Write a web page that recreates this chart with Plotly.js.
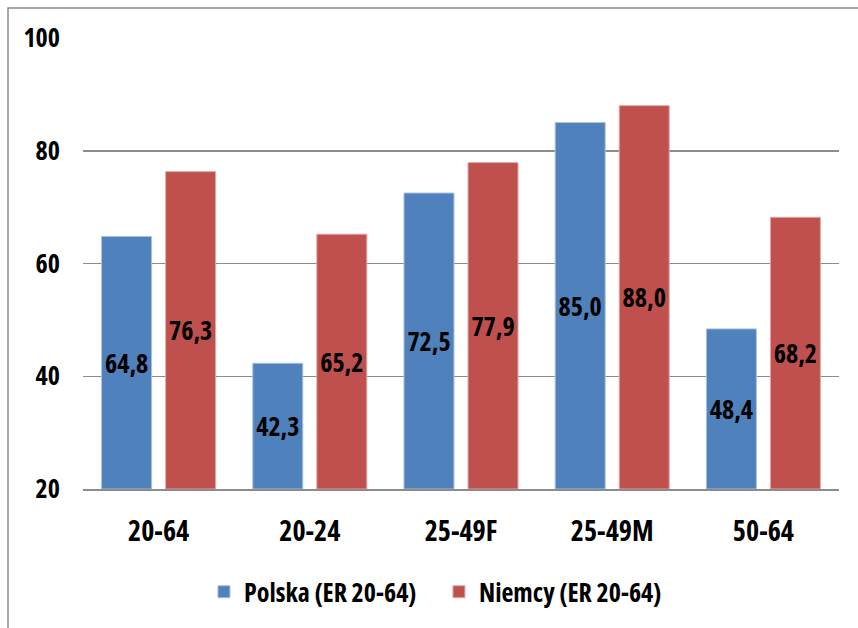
<!DOCTYPE html>
<html>
<head>
<meta charset="utf-8">
<script src="https://cdn.plot.ly/plotly-3.0.1.min.js"></script>
<style>
html,body{margin:0;padding:0;background:#fff;}
#chart{width:858px;height:628px;}
svg text{font-stretch:condensed;}
</style>
</head>
<body>
<div id="chart"></div>
<script>
var categories = ["20-64", "20-24", "25-49F", "25-49M", "50-64"];
var polska = [64.8, 42.3, 72.5, 85.0, 48.4];
var niemcy = [76.3, 65.2, 77.9, 88.0, 68.2];
var seriesNames = ["Polska (ER 20-64)", "Niemcy (ER 20-64)"];
var yTicks = [20, 40, 60, 80, 100];
var yMin = 20, yMax = 100;

var FONT = '"Open Sans", "Noto Sans", sans-serif';
var GRID = '#8c8c8c';

function barTrace(name, vals, color, lineColor) {
  return {
    type: 'bar',
    name: name,
    x: categories,
    base: yMin,
    y: vals.map(function (v) { return v - yMin; }),
    customdata: vals,
    marker: {color: color, line: {color: lineColor, width: 1}},
    texttemplate: '%{customdata:.1f}',
    textposition: 'inside',
    insidetextanchor: 'middle',
    textangle: 0,
    constraintext: 'none',
    textfont: {family: FONT, size: 26, color: '#000', weight: 'bold'},
    hovertemplate: '%{x}: %{customdata:.1f}<extra>' + name + '</extra>'
  };
}

var data = [
  barTrace(seriesNames[0], polska, '#4F81BD', '#a9c1e0'),
  barTrace(seriesNames[1], niemcy, '#C0504D', '#e2a9a7')
];

var layout = {
  width: 858,
  height: 628,
  margin: {l: 83, r: 19, t: 38, b: 139, pad: 0},
  paper_bgcolor: '#fff',
  plot_bgcolor: '#fff',
  separators: ',.',
  barmode: 'group',
  bargap: 0.153,
  bargroupgap: 0.219,
  font: {family: FONT, size: 26, color: '#000', weight: 'bold'},
  xaxis: {
    type: 'category',
    showgrid: false,
    showline: true,
    linecolor: GRID,
    linewidth: 1.5,
    ticks: '',
    ticklabelstandoff: 17,
    tickfont: {family: FONT, size: 28, color: '#000', weight: 'bold'},
    fixedrange: true
  },
  yaxis: {
    range: [yMin, yMax],
    tickvals: yTicks,
    ticktext: yTicks.map(String),
    showgrid: true,
    gridcolor: GRID,
    gridwidth: 1.5,
    zeroline: false,
    showline: false,
    ticks: '',
    ticklabelstandoff: 22,
    tickfont: {family: FONT, size: 26, color: '#000', weight: 'bold'},
    fixedrange: true
  },
  showlegend: true,
  legend: {
    orientation: 'h',
    x: 0.16,
    xanchor: 'left',
    y: -0.228,
    yanchor: 'middle',
    entrywidth: 190,
    entrywidthmode: 'pixels',
    font: {family: FONT, size: 26, color: '#000', weight: 'bold'},
    bgcolor: 'rgba(0,0,0,0)'
  },
  shapes: [{
    type: 'rect',
    xref: 'paper', yref: 'paper',
    x0: -0.0992, x1: 1.2,
    y0: -0.6, y1: 1.0665,
    line: {color: '#8a8a8a', width: 1.5},
    fillcolor: 'rgba(0,0,0,0)',
    layer: 'below'
  }]
};

Plotly.newPlot('chart', data, layout, {displayModeBar: false, staticPlot: true});
</script>
</body>
</html>
